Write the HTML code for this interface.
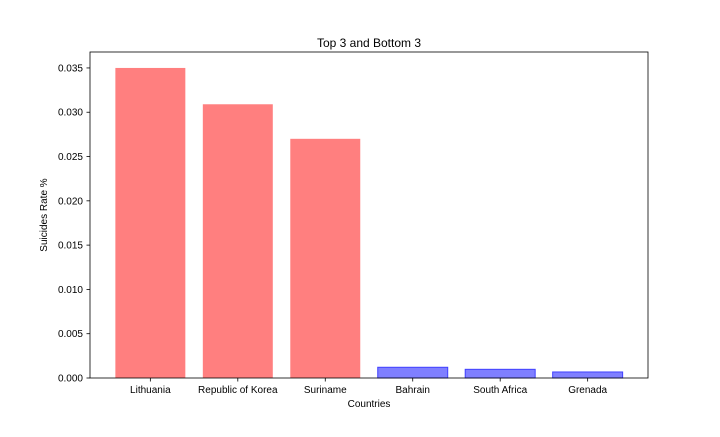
<!DOCTYPE html>
<html><head><meta charset="utf-8"><style>
body{margin:0;background:#fff;}
svg text{font-family:"Liberation Sans","DejaVu Sans",sans-serif;fill:#000;}
</style></head><body>
<svg id="chart" width="720" height="432" xmlns="http://www.w3.org/2000/svg">
<rect width="720" height="432" fill="#fff"/>
<text x="369" y="47" font-size="12" text-anchor="middle">Top 3 and Bottom 3</text>
<g id="bars"></g><g id="ticks"></g>
<rect x="90" y="52" width="558" height="326" fill="none" stroke="#000" stroke-width="0.8"/>
<text x="369" y="407" font-size="10" text-anchor="middle">Countries</text>
<text transform="translate(47,215) rotate(-90)" font-size="10" text-anchor="middle">Suicides Rate %</text>
</svg>
<script>
const categories=["Lithuania","Republic of Korea","Suriname","Bahrain","South Africa","Grenada"];
const values=[0.0350,0.0309,0.0270,0.00121,0.00098,0.00068];
const groups=["top","top","top","bottom","bottom","bottom"];
const yTicks=[0,0.005,0.010,0.015,0.020,0.025,0.030,0.035];
const yTickLabels=["0.000","0.005","0.010","0.015","0.020","0.025","0.030","0.035"];
const NS="http://www.w3.org/2000/svg";
const L=90,R=648,T=52,B=378,yMax=0.0368;
const n=categories.length, xmin=-0.4-0.05*(n-0.2), xmax=n-1+0.4+0.05*(n-0.2);
const x=v=>L+(v-xmin)/(xmax-xmin)*(R-L);
const y=v=>B-v/yMax*(B-T);
const bw=0.8*(R-L)/(xmax-xmin);
const bars=document.getElementById('bars'),ticks=document.getElementById('ticks');
function mk(tag,attrs,parent){const e=document.createElementNS(NS,tag);for(const k in attrs)e.setAttribute(k,attrs[k]);parent.appendChild(e);return e;}
categories.forEach((c,i)=>{
  const top=groups[i]==="top";
  const r=mk('rect',{x:x(i)-bw/2,y:y(values[i]),width:bw,height:B-y(values[i]),fill:top?'#ff7f7f':'#7f7fff',stroke:top?'none':'#4040ff','stroke-width':1},bars);
  
  
  mk('line',{x1:x(i),x2:x(i),y1:B,y2:B+3.5,stroke:'#000','stroke-width':0.8},ticks);
  const t=mk('text',{x:x(i),y:B+15,'font-size':10,'text-anchor':'middle'},ticks);
  t.textContent=c;
  
  
});
yTicks.forEach((v,i)=>{
  mk('line',{x1:L-3.5,x2:L,y1:y(v),y2:y(v),stroke:'#000','stroke-width':0.8},ticks);
  const t=mk('text',{x:L-7,y:y(v)+3.5,'font-size':10,'text-anchor':'end'},ticks);
  t.textContent=yTickLabels[i];
  
  
});
</script>
</body></html>
